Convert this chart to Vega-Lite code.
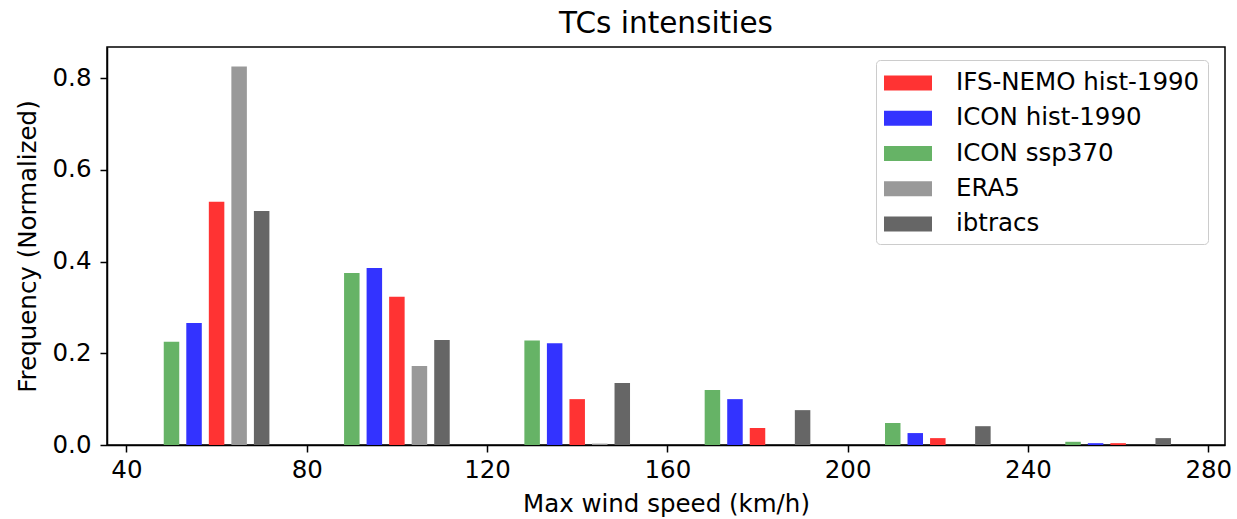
{
  "$schema": "https://vega.github.io/schema/vega-lite/v6.json",
  "autosize": {"type": "none"},
  "width": 1118,
  "height": 398,
  "padding": {"left": 107, "top": 47, "right": 12, "bottom": 74},
  "background": "white",
  "title": {"text": "TCs intensities", "font": "DejaVu Sans", "fontSize": 29.5, "fontWeight": "normal", "color": "#000000", "offset": 8, "anchor": "middle"},
  "config": {
    "view": {"stroke": "#000000", "strokeWidth": 1.5},
    "font": "DejaVu Sans"
  },
  "data": {"values": [
    {"series": "ICON ssp370", "wind": 50, "freq": 0.225},
    {"series": "ICON hist-1990", "wind": 55, "freq": 0.266},
    {"series": "IFS-NEMO hist-1990", "wind": 60, "freq": 0.53},
    {"series": "ERA5", "wind": 65, "freq": 0.825},
    {"series": "ibtracs", "wind": 70, "freq": 0.51},
    {"series": "ICON ssp370", "wind": 90, "freq": 0.375},
    {"series": "ICON hist-1990", "wind": 95, "freq": 0.386},
    {"series": "IFS-NEMO hist-1990", "wind": 100, "freq": 0.323},
    {"series": "ERA5", "wind": 105, "freq": 0.172},
    {"series": "ibtracs", "wind": 110, "freq": 0.229},
    {"series": "ICON ssp370", "wind": 130, "freq": 0.228},
    {"series": "ICON hist-1990", "wind": 135, "freq": 0.222},
    {"series": "IFS-NEMO hist-1990", "wind": 140, "freq": 0.1},
    {"series": "ERA5", "wind": 145, "freq": 0.003},
    {"series": "ibtracs", "wind": 150, "freq": 0.135},
    {"series": "ICON ssp370", "wind": 170, "freq": 0.12},
    {"series": "ICON hist-1990", "wind": 175, "freq": 0.1},
    {"series": "IFS-NEMO hist-1990", "wind": 180, "freq": 0.037},
    {"series": "ibtracs", "wind": 190, "freq": 0.076},
    {"series": "ICON ssp370", "wind": 210, "freq": 0.048},
    {"series": "ICON hist-1990", "wind": 215, "freq": 0.026},
    {"series": "IFS-NEMO hist-1990", "wind": 220, "freq": 0.015},
    {"series": "ibtracs", "wind": 230, "freq": 0.041},
    {"series": "ICON ssp370", "wind": 250, "freq": 0.007},
    {"series": "ICON hist-1990", "wind": 255, "freq": 0.004},
    {"series": "IFS-NEMO hist-1990", "wind": 260, "freq": 0.004},
    {"series": "ibtracs", "wind": 270, "freq": 0.015}
  ]},
  "mark": {"type": "bar", "width": 15.5, "opacity": 1},
  "encoding": {
    "x": {
      "field": "wind", "type": "quantitative",
      "scale": {"domain": [36.8, 282.6], "nice": false, "zero": false},
      "axis": {
        "values": [40, 80, 120, 160, 200, 240, 280],
        "title": "Max wind speed (km/h)",
        "titleFont": "DejaVu Sans", "titleFontSize": 24.5, "titleFontWeight": "normal", "titleColor": "#000000", "titlePadding": 11,
        "labelFont": "DejaVu Sans", "labelFontSize": 24.5, "labelColor": "#000000", "labelPadding": 6,
        "grid": false, "domainColor": "#000000", "domainWidth": 1.5,
        "tickColor": "#000000", "tickSize": 7, "tickWidth": 1.5
      }
    },
    "y": {
      "field": "freq", "type": "quantitative",
      "scale": {"domain": [0, 0.8676], "nice": false},
      "axis": {
        "values": [0, 0.2, 0.4, 0.6, 0.8],
        "format": ".1f",
        "title": "Frequency (Normalized)",
        "titleFont": "DejaVu Sans", "titleFontSize": 24.5, "titleFontWeight": "normal", "titleColor": "#000000", "titlePadding": 12,
        "labelFont": "DejaVu Sans", "labelFontSize": 24.5, "labelColor": "#000000", "labelPadding": 9,
        "grid": false, "domainColor": "#000000", "domainWidth": 1.5,
        "tickColor": "#000000", "tickSize": 7, "tickWidth": 1.5
      }
    },
    "color": {
      "field": "series", "type": "nominal",
      "scale": {
        "domain": ["IFS-NEMO hist-1990", "ICON hist-1990", "ICON ssp370", "ERA5", "ibtracs"],
        "range": ["#ff3333", "#3333ff", "#66b366", "#999999", "#666666"]
      },
      "legend": {
        "title": null,
        "orient": "none",
        "legendX": 769,
        "legendY": 13,
        "symbolType": "M-1,-0.5H2.2V0.5H-1Z",
        "symbolSize": 900,
        "symbolOpacity": 1,
        "symbolStrokeWidth": 0,
        "labelFont": "DejaVu Sans",
        "labelFontSize": 24.5,
        "labelColor": "#000000",
        "labelOffset": 42,
        "labelLimit": 0,
        "rowPadding": 8.25,
        "padding": 8,
        "strokeColor": "#cccccc",
        "fillColor": "#ffffff",
        "cornerRadius": 4
      }
    }
  }
}
